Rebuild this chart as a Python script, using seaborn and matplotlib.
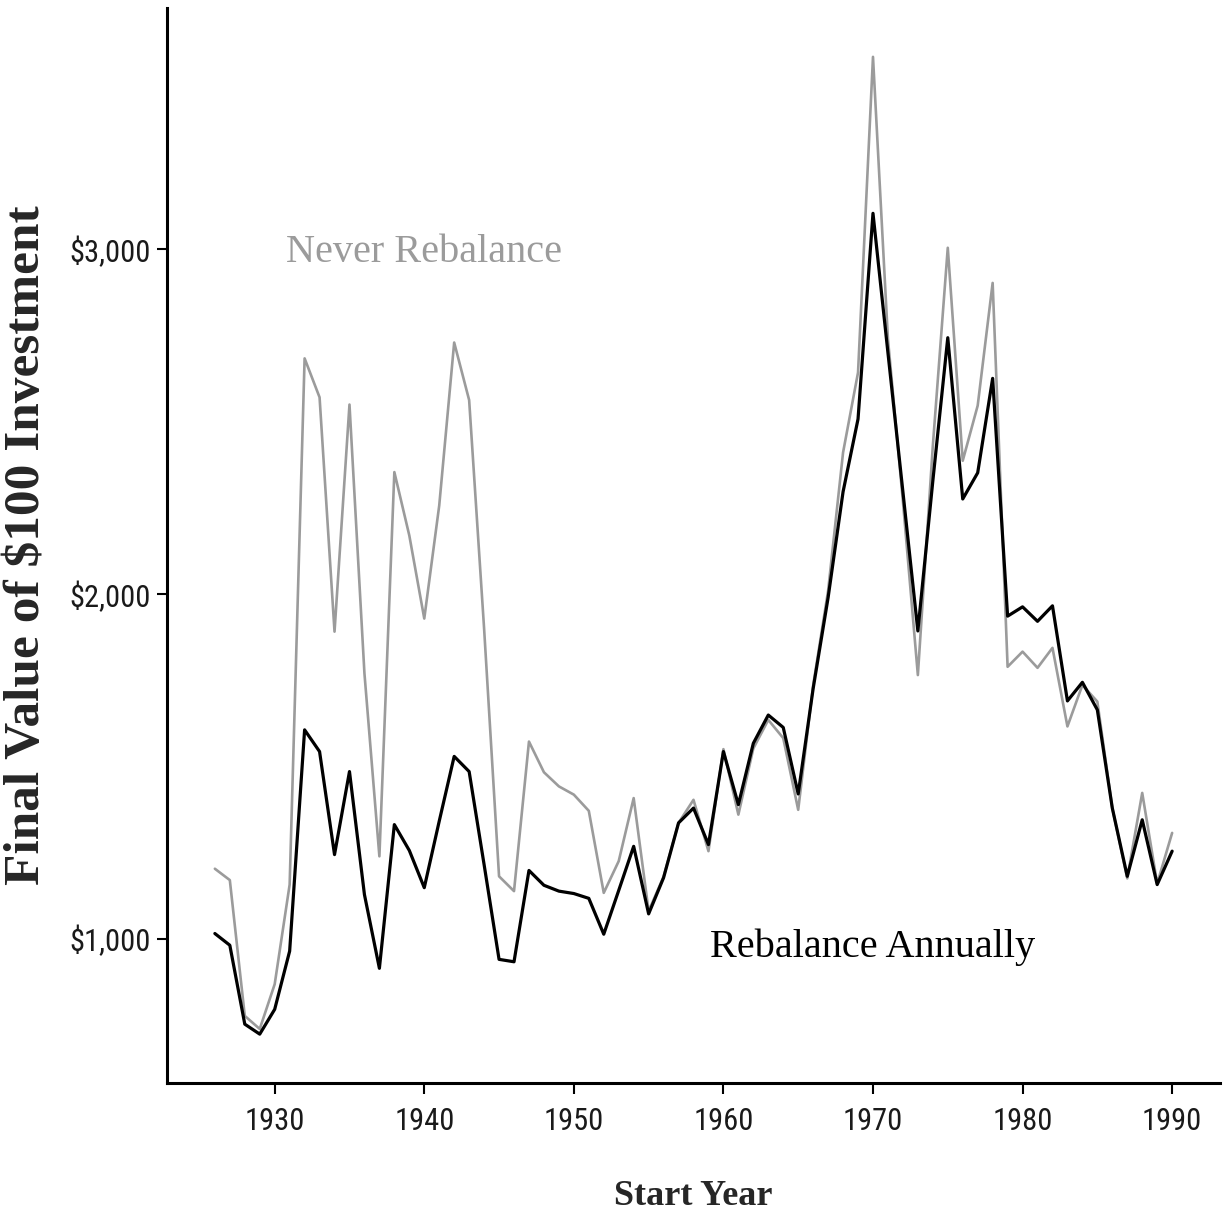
import matplotlib
matplotlib.use("Agg")
import matplotlib.pyplot as plt
import matplotlib.ticker as mticker
import numpy as np
import pandas as pd
import seaborn as sns

# Start years of each 30-year holding period
years = list(range(1926, 1991))

# Final value of a $100 investment, buy-and-hold portfolio
never_rebalance = [
    1203, 1170, 776, 738, 868, 1157, 2684, 2571, 1891, 2550,
    1770, 1239, 2354, 2170, 1929, 2257, 2730, 2563, 1900, 1181,
    1138, 1572, 1483, 1442, 1418, 1371, 1133, 1225, 1408, 1080,
    1180, 1336, 1403, 1254, 1550, 1360, 1552, 1635, 1582, 1374,
    1735, 2010, 2411, 2643, 3559, 2740, 2270, 1765, 2430, 3005,
    2387, 2547, 2903, 1789, 1833, 1786, 1844, 1616, 1736, 1688,
    1379, 1175, 1423, 1160, 1307,
]

# Final value of a $100 investment, rebalanced every year
rebalance_annually = [
    1015, 981, 752, 723, 795, 964, 1606, 1543, 1244, 1485,
    1128, 914, 1331, 1256, 1148, 1341, 1529, 1485, 1215, 940,
    933, 1198, 1155, 1138, 1131, 1117, 1013, 1140, 1268, 1072,
    1177, 1336, 1379, 1273, 1543, 1389, 1567, 1649, 1613, 1420,
    1726, 1990, 2297, 2508, 3105, 2700, 2297, 1893, 2328, 2744,
    2276, 2352, 2626, 1936, 1963, 1921, 1966, 1690, 1744, 1664,
    1379, 1181, 1345, 1157, 1254,
]

y_ticks = [1000, 2000, 3000]
x_ticks = [1930, 1940, 1950, 1960, 1970, 1980, 1990]

GRAY = "#9b9b9b"
BLACK = "#000000"

df = pd.DataFrame({
    "year": years,
    "never": never_rebalance,
    "annual": rebalance_annually,
})

sns.set_theme(style="ticks")
plt.rcParams["font.family"] = ["Roboto Condensed", "Liberation Sans Narrow",
                               "Liberation Sans", "DejaVu Sans"]

fig = plt.figure(figsize=(12.24, 12.22), dpi=100)
ax = fig.add_axes([167 / 1224, 1 - 1083 / 1222, (1220 - 167) / 1224, (1083 - 8) / 1222])

sns.lineplot(data=df, x="year", y="never", color=GRAY, linewidth=1.9, ax=ax)
sns.lineplot(data=df, x="year", y="annual", color=BLACK, linewidth=2.3, ax=ax)

# ggplot-style 5% expansion around the data range
xmin, xmax = min(years), max(years)
allv = never_rebalance + rebalance_annually
ymin, ymax = min(allv), max(allv)
ax.set_xlim(xmin - 0.05 * (xmax - xmin), xmax + 0.05 * (xmax - xmin))
ax.set_ylim(ymin - 0.05 * (ymax - ymin), ymax + 0.05 * (ymax - ymin))

ax.set_xticks(x_ticks)
ax.set_yticks(y_ticks)
ax.yaxis.set_major_formatter(mticker.FuncFormatter(lambda v, _: f"${v:,.0f}"))

for side in ("top", "right"):
    ax.spines[side].set_visible(False)
for side in ("left", "bottom"):
    ax.spines[side].set_linewidth(2.2)
    ax.spines[side].set_color("black")

ax.tick_params(axis="x", length=8, width=1.5, color="black",
               labelsize=22, labelcolor="#1a1a1a", pad=9)
ax.tick_params(axis="y", length=7, width=1.5, color="black",
               labelsize=22, labelcolor="#1a1a1a", pad=5)

serif = ["Liberation Serif", "DejaVu Serif"]
ax.set_xlabel("Start Year", fontsize=26, fontweight="bold", family=serif)
ax.set_ylabel("Final Value of $100 Investment", fontsize=37, fontweight="bold",
              family=serif)
ax.xaxis.label.set_va("top")
ax.xaxis.set_label_coords(0.5, -(1180 - 1083) / 1075)
ax.yaxis.label.set_va("center")
ax.yaxis.set_label_coords(-(167 - 28) / 1053, 0.5)

ax.text(1940, 2990, "Never Rebalance", color=GRAY, fontsize=29, family=serif,
        ha="center", va="center")
ax.text(1970, 975, "Rebalance Annually", color=BLACK, fontsize=29, family=serif,
        ha="center", va="center")

ax.grid(False)
fig.savefig("out.png", dpi=100, facecolor="white")
